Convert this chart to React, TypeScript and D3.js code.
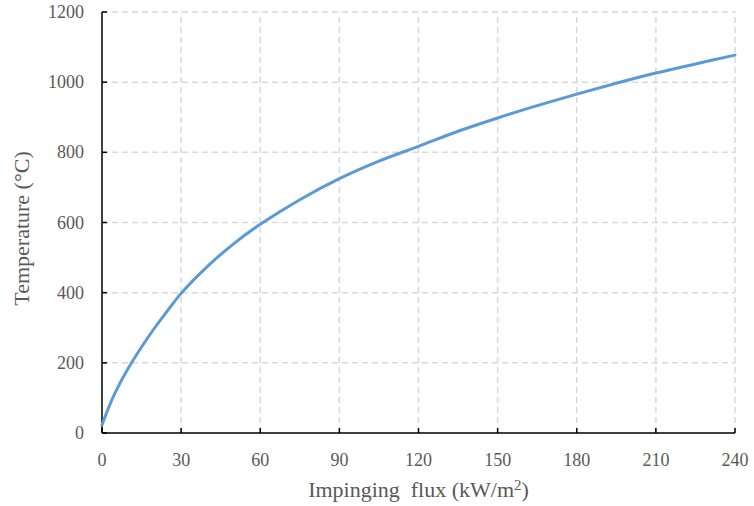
import React, { useEffect, useRef } from "react";
import * as d3 from "d3";

// impinging flux (kW/m2) and surface temperature (°C)
const fluxValues = [0, 2.5, 5, 10, 15, 20, 25, 30, 40, 50, 60, 75, 90, 105, 120, 135, 150, 165, 180, 195, 210, 225, 240];
const tempValues = [23, 72, 115, 185, 245, 300, 350, 398, 475, 540, 595, 665, 725, 775, 817, 860, 898, 933, 966, 997, 1026, 1052, 1077];
const xTicks = [0, 30, 60, 90, 120, 150, 180, 210, 240];
const yTicks = [0, 200, 400, 600, 800, 1000, 1200];

const App = () => {
  const svgRef = useRef<SVGSVGElement>(null);

  useEffect(() => {
    const width = 754, height = 506;
    const margin = { top: 12, right: 19, bottom: 73, left: 102 };

    d3.select(svgRef.current).selectAll("*").remove();

    const svg = d3.select(svgRef.current)
      .attr("width", width)
      .attr("height", height);

    const x = d3.scaleLinear().domain([0, 240]).range([margin.left, width - margin.right]);
    const y = d3.scaleLinear().domain([0, 1200]).range([height - margin.bottom, margin.top]);

    const grid = svg.append("g")
      .attr("stroke", "#d9d9d9")
      .attr("stroke-width", 1.5)
      .attr("stroke-dasharray", "6,4");

    // horizontal grid lines
    grid.selectAll(".hgrid")
      .data(yTicks.filter(d => d > 0))
      .enter()
      .append("line")
      .attr("x1", x(0))
      .attr("x2", x(240))
      .attr("y1", d => y(d))
      .attr("y2", d => y(d));

    // vertical grid lines
    grid.selectAll(".vgrid")
      .data(xTicks.filter(d => d > 0))
      .enter()
      .append("line")
      .attr("x1", d => x(d))
      .attr("x2", d => x(d))
      .attr("y1", y(0))
      .attr("y2", y(1200));

    // axes
    const axisColor = "#000";
    svg.append("line")
      .attr("x1", x(0)).attr("x2", x(240))
      .attr("y1", y(0)).attr("y2", y(0))
      .attr("stroke", axisColor).attr("stroke-width", 1.5);
    svg.append("line")
      .attr("x1", x(0)).attr("x2", x(0))
      .attr("y1", y(0)).attr("y2", y(1200))
      .attr("stroke", axisColor).attr("stroke-width", 1.5);

    svg.selectAll(".xtick")
      .data(xTicks)
      .enter()
      .append("line")
      .attr("x1", d => x(d)).attr("x2", d => x(d))
      .attr("y1", y(0)).attr("y2", y(0) - 5)
      .attr("stroke", axisColor).attr("stroke-width", 1.5);

    svg.selectAll(".ytick")
      .data(yTicks)
      .enter()
      .append("line")
      .attr("x1", x(0)).attr("x2", x(0) + 5)
      .attr("y1", d => y(d)).attr("y2", d => y(d))
      .attr("stroke", axisColor).attr("stroke-width", 1.5);

    const font = "'Liberation Serif', 'Times New Roman', serif";
    const textColor = "#595959";

    svg.selectAll(".xlabel")
      .data(xTicks)
      .enter()
      .append("text")
      .attr("x", d => x(d))
      .attr("y", y(0) + 33)
      .attr("text-anchor", "middle")
      .attr("font-family", font)
      .attr("font-size", 18)
      .attr("fill", textColor)
      .text(d => d);

    svg.selectAll(".ylabel")
      .data(yTicks)
      .enter()
      .append("text")
      .attr("x", x(0) - 18)
      .attr("y", d => y(d) + 6)
      .attr("text-anchor", "end")
      .attr("font-family", font)
      .attr("font-size", 18)
      .attr("fill", textColor)
      .text(d => d);

    // axis titles
    const xt = svg.append("text")
      .attr("x", (x(0) + x(240)) / 2)
      .attr("y", 497)
      .attr("text-anchor", "middle")
      .attr("font-family", font)
      .attr("font-size", 22)
      .attr("fill", textColor);
    xt.append("tspan").text("Impinging\u00a0 flux (kW/m");
    xt.append("tspan").attr("dy", -7).attr("font-size", 15).text("2");
    xt.append("tspan").attr("dy", 7).text(")");

    svg.append("text")
      .attr("transform", `translate(29, ${(y(0) + y(1200)) / 2 + 6}) rotate(-90)`)
      .attr("text-anchor", "middle")
      .attr("font-family", font)
      .attr("font-size", 22)
      .attr("fill", textColor)
      .text("Temperature (°C)");

    // curve
    const points = fluxValues.map((f, i) => [f, tempValues[i]] as [number, number]);
    const line = d3.line<[number, number]>()
      .x(d => x(d[0]))
      .y(d => y(d[1]))
      .curve(d3.curveCatmullRom.alpha(0.5));

    svg.append("path")
      .datum(points)
      .attr("d", line)
      .attr("fill", "none")
      .attr("stroke", "#5b9bd5")
      .attr("stroke-width", 3)
      .attr("stroke-linecap", "round");
  }, []);

  return (
    <div style={{ position: "absolute", left: 0, top: 0, background: "#fff" }}>
      <svg ref={svgRef} style={{ display: "block" }} />
    </div>
  );
};

export default App;
